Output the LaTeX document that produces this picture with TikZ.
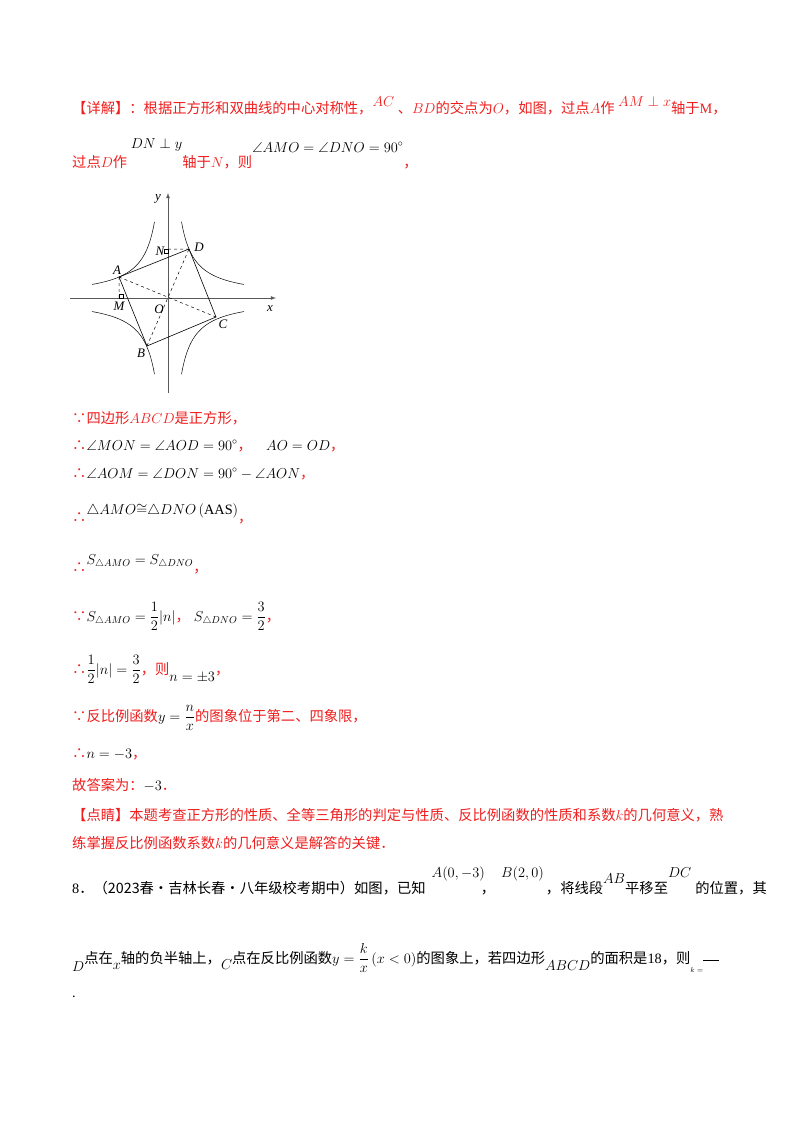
\documentclass[tikz,border=0pt]{standalone}
\usepackage{amsmath,amssymb}
\usepackage{fontspec}
\setmainfont{Liberation Serif}
\newfontfamily\cjk{Noto Sans CJK SC}
\definecolor{rd}{RGB}{240,30,30}
\newcommand{\zh}[1]{{\cjk #1}}
\newcommand{\up}[2]{\raisebox{#1pt}{#2}}
\begin{document}
\begin{tikzpicture}[x=1pt,y=-1pt,
  tl/.style={anchor=base west,inner sep=0pt,font=\fontsize{14.3}{16}\selectfont},
  lab/.style={font=\itshape\fontsize{13}{14}\selectfont,inner sep=0pt},
  ax/.style={gray!70!black,line width=0.8pt,-latex},
  cv/.style={black,line width=0.5pt},
  sq/.style={black,line width=0.6pt}]
\useasboundingbox (0,0) rectangle (800,1132);
\fill[white] (0,0) rectangle (800,1132);

% text
\node[tl,rd] (l1) at (72,113) {\zh{【详解】：根据正方形和双曲线的中心对称性，}\up{6}{$AC$} \zh{、}$BD$\zh{的交点为}$O$\zh{，如图，过点}$A$\zh{作} \up{7}{$AM\perp x$}\zh{轴于}M\zh{，}};
\node[tl,rd] (l2) at (72,167) {\zh{过点}$D$\zh{作} \up{19}{\color{black}$DN\perp y$}\zh{轴于}$N$\zh{，则}\up{15}{\color{black}$\angle AMO=\angle DNO=90^\circ$}\zh{，}};

\node[tl,rd] (s1) at (72,423) {\zh{∵四边形}$ABCD$\zh{是正方形，}};
\node[tl,rd] (s2) at (72,450) {\zh{∴}\color{black}$\angle MON=\angle AOD=90^\circ$\color{rd}\zh{，}\quad\color{black}$AO=OD$\color{rd}\zh{，}};
\node[tl,rd] (s3) at (72,478) {\zh{∴}\color{black}$\angle AOM=\angle DON=90^\circ-\angle AON$\color{rd}\zh{，}};
\node[tl,rd] (s4) at (72,522) {\zh{∴}\up{8}{\color{black}$\triangle AMO{\cong}\triangle DNO\left(\mathrm{AAS}\right)$}\zh{，}};
\node[tl,rd] (s5) at (72,572) {\zh{∴}\up{8}{\color{black}$S_{\triangle AMO}=S_{\triangle DNO}$}\zh{，}};
\node[tl,rd] (s6) at (72,621) {\zh{∵}\color{black}$S_{\triangle AMO}=\dfrac12|n|$\color{rd}\zh{，}\;\color{black}$S_{\triangle DNO}=\dfrac32$\color{rd}\zh{，}};
\node[tl,rd] (s7) at (72,674) {\zh{∴}\color{black}$\dfrac12|n|=\dfrac32$\color{rd}\zh{，则}\up{-7}{\color{black}$n=\pm3$}\zh{，}};
\node[tl,rd] (s8) at (72,721) {\zh{∵反比例函数}\color{black}$y=\dfrac{n}{x}$\color{rd}\zh{的图象位于第二、四象限，}};
\node[tl,rd] (s9) at (72,758) {\zh{∴}\color{black}$n=-3$\color{rd}\zh{，}};
\node[tl,rd] (s10) at (72,790) {\zh{故答案为：}\color{black}$-3$\color{rd}\zh{．}};
\node[tl,rd] (s11) at (72,820) {\zh{【点睛】本题考查正方形的性质、全等三角形的判定与性质、反比例函数的性质和系数}$k$\zh{的几何意义，熟}};
\node[tl,rd] (s12) at (72,848) {\zh{练掌握反比例函数系数}$k$\zh{的几何意义是解答的关键．}};

\node[tl] (q1) at (72,893) {8\zh{．（2023春·吉林长春·八年级校考期中）如图，已知}\hspace{6pt}\up{16}{$A(0,-3)$}\hspace{-4pt}\zh{，}\hspace{6pt}\up{16}{$B(2,0)$}\hspace{2pt}\zh{，将线段}\up{10}{$AB$}\zh{平移至}\up{16}{$DC$}\hspace{4pt}\zh{的位置，其}};
\node[tl] (q2) at (72,963) {\up{-8}{$D$}\zh{点在}\up{-6}{$x$}\zh{轴的负半轴上，}\up{-6}{$C$}\zh{点在反比例函数}$y=\dfrac{k}{x}\left(x<0\right)$\zh{的图象上，若四边形}\up{-7}{$ABCD$}\zh{的面积是}18\zh{，则}\up{-9}{\scriptsize$k=$}\rule[2pt]{16pt}{0.8pt}};
\node[tl] (q3) at (72,997) {.};

% figure
\draw[ax] (70,298) -- (276,298);
\draw[ax] (168,393) -- (168,193);
\begin{scope}[shift={(168,298)},x=1pt,y=-1pt]
\draw[cv] plot[domain=13.5:76,samples=60,smooth] (\x,{1029/\x});
\draw[cv] plot[domain=13.5:76,samples=60,smooth] (-\x,{1029/\x});
\draw[cv] plot[domain=13.5:76,samples=60,smooth] (\x,{-1029/\x});
\draw[cv] plot[domain=13.5:76,samples=60,smooth] (-\x,{-1029/\x});
\end{scope}
\coordinate (A) at (119,277);
\coordinate (D) at (189,249);
\coordinate (C) at (216,317);
\coordinate (B) at (147,346);
\coordinate (N) at (168,249);
\coordinate (M) at (119,298);
\draw[black,line width=0.6pt] (A) -- (D) -- (C) -- (B) -- cycle;
\draw[black,line width=0.5pt,dashed] (A) -- (C) (B) -- (D) (D) -- (N) (A) -- (M);
\draw[sq] (N) rectangle ++(-4,4);
\draw[sq] (M) rectangle ++(4,-4);
\node[lab] (ly) at (158,199) {y};
\node[lab] (lx) at (270,309) {x};
\node[lab] (lN) at (160,251) {N};
\node[lab] (lD) at (199,247) {D};
\node[lab] (lA) at (117,270) {A};
\node[lab] (lM) at (119,306) {M};
\node[lab] (lO) at (159,309) {O};
\node[lab] (lC) at (223,324) {C};
\node[lab] (lB) at (141,353) {B};
\end{tikzpicture}
\end{document}
